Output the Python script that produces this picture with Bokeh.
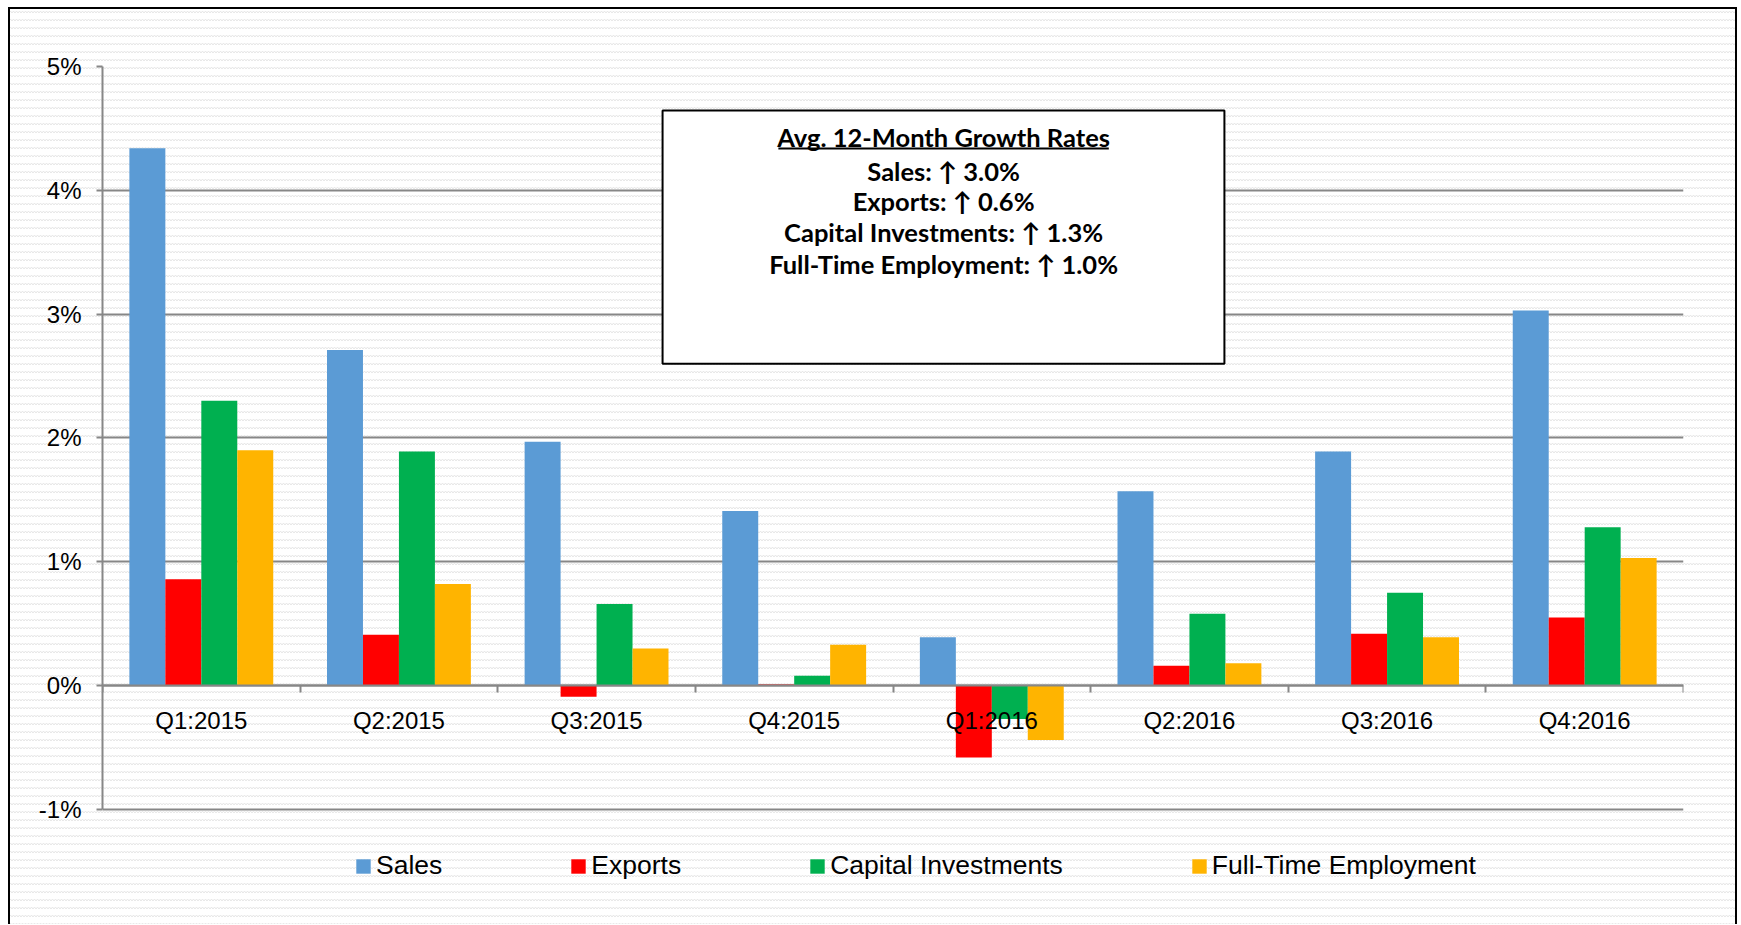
from bokeh.plotting import figure
from bokeh.models import (Range1d, LinearAxis, FixedTicker, CustomJSTickFormatter,
                          PrintfTickFormatter, BoxAnnotation, Label, Legend, LegendItem)
from bokeh.embed import file_html
from bokeh.resources import INLINE

# ---------------- data ----------------
quarters = ["Q1:2015", "Q2:2015", "Q3:2015", "Q4:2015",
            "Q1:2016", "Q2:2016", "Q3:2016", "Q4:2016"]
sales = [4.34, 2.71, 1.97, 1.41, 0.39, 1.57, 1.89, 3.03]
exports = [0.86, 0.41, -0.09, 0.01, -0.58, 0.16, 0.42, 0.55]
capital = [2.30, 1.89, 0.66, 0.08, -0.27, 0.58, 0.75, 1.28]
fte = [1.90, 0.82, 0.30, 0.33, -0.44, 0.18, 0.39, 1.03]
series_names = ["Sales", "Exports", "Capital Investments", "Full-Time Employment"]
series_colors = ["#5B9BD5", "#FF0000", "#00B050", "#FFB400"]
y_ticks = [-1, 0, 1, 2, 3, 4, 5]
box_lines = ["Avg. 12-Month Growth Rates",
             "Sales: \u2191 3.0%",
             "Exports: \u2191 0.6%",
             "Capital Investments: \u2191 1.3%",
             "Full-Time Employment: \u2191 1.0%"]

GRAY = "#878787"
FONT = "Liberation Sans"

# frame spans the figure bottom so the legend (inside the frame) is not clipped;
# the y axis itself is bounded to -1..5
Y_BOTTOM = -1.929

p = figure(width=1740, height=924, output_backend="svg", toolbar_location=None,
           x_range=Range1d(0, len(quarters)), y_range=Range1d(Y_BOTTOM, y_ticks[-1]),
           x_axis_location=None, y_axis_location="left",
           min_border_left=102, min_border_right=57, min_border_top=66, min_border_bottom=0)

p.background_fill_color = None
p.border_fill_color = None
p.outline_line_color = None

pattern = ("data:image/svg+xml,%3Csvg xmlns='http://www.w3.org/2000/svg' width='6' height='8'%3E"
           "%3Cpath d='M0 5 L1.5 3 L3 5 L4.5 3 L6 5' fill='none' stroke='%23e6e6e6' stroke-width='1'/%3E%3C/svg%3E")
p.styles = {
    "background-color": "#ffffff",
    "background-image": f'url("{pattern}")',
    "box-shadow": ("inset 8px 0 0 0 #ffffff, inset 0 7px 0 0 #ffffff, inset -3px 0 0 0 #ffffff, "
                   "inset 10px 0 0 0 #000000, inset 0 9px 0 0 #000000, inset -5px 0 0 0 #000000"),
}

# grid
p.xgrid.visible = False
p.ygrid.ticker = FixedTicker(ticks=y_ticks)
p.ygrid.grid_line_color = GRAY
p.ygrid.grid_line_width = 2

# y axis
ya = p.yaxis[0]
ya.bounds = (y_ticks[0], y_ticks[-1])
ya.ticker = FixedTicker(ticks=y_ticks)
ya.formatter = PrintfTickFormatter(format="%d%%")
ya.axis_line_color = GRAY
ya.axis_line_width = 2
ya.major_tick_line_color = GRAY
ya.major_tick_line_width = 2
ya.major_tick_out = 6
ya.major_tick_in = 0
ya.minor_tick_line_color = None
ya.major_label_text_font = FONT
ya.major_label_text_font_size = "24px"
ya.major_label_text_color = "#000000"
ya.major_label_standoff = 15

# bars
bar_w = 0.182
series = [sales, exports, capital, fte]
renderers = []
for k, (vals, name, col) in enumerate(zip(series, series_names, series_colors)):
    off = (k - 1.5) * bar_w
    xs = [i + 0.5 + off for i in range(len(quarters))]
    r = p.vbar(x=xs, top=vals, bottom=0, width=bar_w, fill_color=col, line_color=None)
    renderers.append(r)

# x axis at zero, labels at category centres, ticks at boundaries
xa = LinearAxis(fixed_location=0)
xa.ticker = FixedTicker(ticks=[i + 0.5 for i in range(len(quarters))],
                        minor_ticks=list(range(len(quarters) + 1)))
xa.formatter = CustomJSTickFormatter(args=dict(labels=quarters),
                                     code="return labels[Math.floor(tick)];")
xa.axis_line_color = GRAY
xa.axis_line_width = 2
xa.major_tick_line_color = None
xa.major_tick_out = 0
xa.major_tick_in = 0
xa.minor_tick_line_color = GRAY
xa.minor_tick_line_width = 2
xa.minor_tick_out = 7
xa.minor_tick_in = 0
xa.major_label_text_font = FONT
xa.major_label_text_font_size = "24px"
xa.major_label_text_color = "#000000"
xa.major_label_standoff = 14
p.add_layout(xa, "below")

# text box
box = BoxAnnotation(left=2.834, right=5.677, bottom=2.599, top=4.645,
                    fill_color="#ffffff", fill_alpha=1.0,
                    line_color="#000000", line_alpha=1.0, line_width=2)
p.add_layout(box)
line_y = [4.429, 4.159, 3.916, 3.665, 3.407]
for txt, yy in zip(box_lines, line_y):
    p.add_layout(Label(x=4.256, y=yy, text=txt, text_align="center", text_baseline="alphabetic",
                       text_font="Lato", text_font_style="bold", text_font_size="25.5px",
                       text_color="#000000"))
underline = BoxAnnotation(left=3.420, right=5.092, bottom=4.329, top=4.345,
                          fill_color="#000000", fill_alpha=1.0, line_color=None)
p.add_layout(underline)

# legend
legend = Legend(items=[LegendItem(label=n, renderers=[r]) for n, r in zip(series_names, renderers)],
                orientation="horizontal", location=(252, 43),
                glyph_width=18, glyph_height=18, label_standoff=4, spacing=127,
                padding=0, margin=0, border_line_color=None, background_fill_alpha=0,
                label_text_font=FONT, label_text_font_size="26.5px", label_text_color="#000000")
p.add_layout(legend, "center")

open("out.html", "w").write(file_html(p, INLINE))
